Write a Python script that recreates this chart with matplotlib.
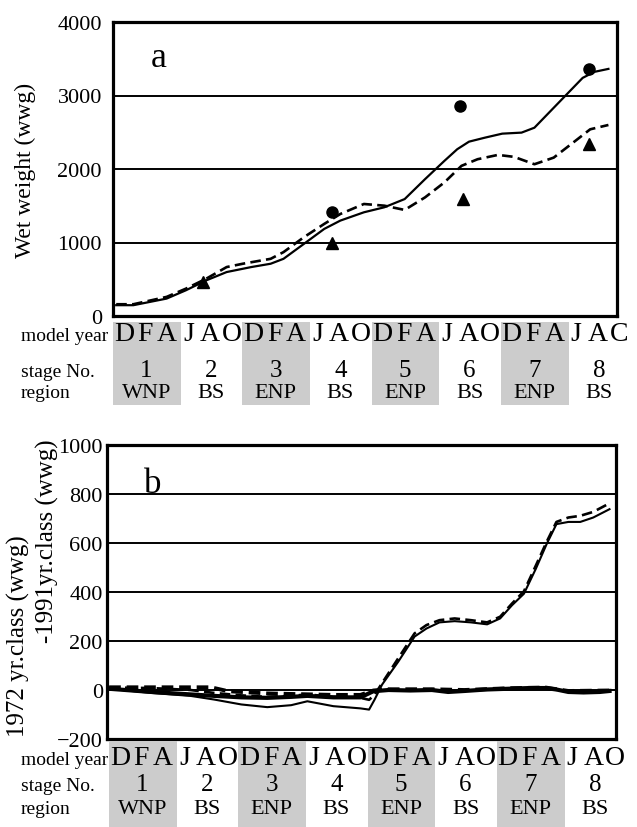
import matplotlib
matplotlib.use('Agg')
import matplotlib.pyplot as plt
from matplotlib.patches import Rectangle

plt.rcParams['font.family'] = ['Liberation Serif', 'DejaVu Serif']

# ---- panel a : wet weight (wwg) against model month ----
a_solid_x = [0.3, 1.9, 5.0, 6.8, 8.7, 10.6, 12.9, 14.7, 15.9, 17.8, 19.7, 21.2, 23.4, 25.3,
             27.2, 29.1, 30.9, 32.1, 33.2, 34.7, 36.3, 38.1, 39.3, 40.8, 42.3, 43.8, 44.9, 46.2]
a_solid_y = [147, 147, 237, 350, 485, 598, 666, 711, 778, 981, 1185, 1298, 1411, 1479,
             1591, 1862, 2110, 2269, 2372, 2427, 2481, 2495, 2562, 2788, 3014, 3240, 3322, 3362]
a_dash_x = [0.3, 1.9, 5.0, 6.8, 8.7, 10.6, 12.1, 14.7, 15.9, 17.8, 19.7, 21.2, 23.4, 25.3,
            27.2, 29.1, 30.9, 32.5, 34.0, 35.9, 37.4, 39.3, 41.1, 43.1, 44.5, 46.2]
a_dash_y = [160, 160, 260, 372, 508, 666, 711, 778, 869, 1072, 1253, 1388, 1524, 1501,
            1443, 1614, 1817, 2043, 2133, 2192, 2165, 2065, 2155, 2381, 2540, 2599]
a_circ_x = [20.4, 32.4, 44.4]
a_circ_y = [1420, 2856, 3362]
a_tri_x = [8.4, 20.4, 32.6, 44.4]
a_tri_y = [463, 990, 1591, 2345]

# ---- panel b : 1972 yr.class - 1991 yr.class (wwg) ----
b1_x = [0.2, 4.1, 7.7, 9.9, 12.4, 14.8, 17.0, 18.5, 20.9, 23.4, 24.2, 24.7, 25.4, 26.9, 28.4,
        29.5, 30.7, 32.1, 33.6, 35.1, 36.3, 37.4, 38.5, 39.6, 40.6, 41.5, 42.6, 43.7, 44.9, 46.4]
b1_y = [5, -12, -24, -39, -59, -70, -62, -46, -66, -75, -80, -40, 22, 116, 218,
        251, 276, 281, 276, 268, 292, 346, 393, 495, 596, 677, 686, 686, 704, 738]
b2_x = [0.2, 4.1, 7.7, 9.9, 12.4, 14.8, 17.0, 18.5, 20.9, 23.4, 24.2, 24.7, 25.4, 26.9, 28.4,
        29.5, 30.7, 32.1, 33.6, 35.1, 36.3, 37.4, 38.5, 39.6, 40.6, 41.5, 42.6, 43.7, 44.9, 46.4]
b2_y = [10, 8, 0, -12, -22, -28, -24, -18, -28, -32, -40, -20, 28, 130, 231,
        265, 285, 292, 285, 276, 299, 353, 403, 508, 605, 686, 704, 711, 727, 762]
b3_x = [0.2, 4.1, 7.7, 9.9, 12.4, 14.8, 17.0, 18.5, 20.9, 23.4, 24.6, 26.0, 28.0, 30.0,
        31.5, 33.0, 35.0, 37.0, 39.0, 40.5, 41.5, 42.6, 44.0, 45.5, 46.4]
b3_y = [5, -8, -18, -24, -30, -32, -28, -24, -30, -30, -5, 0, -2, 0,
        -8, -4, 2, 5, 8, 8, 2, -8, -10, -8, -4]
b4_x = [0.2, 9.6, 11.2, 14.8, 20.9, 23.4, 24.6, 26.0, 30.0, 33.0, 37.0, 40.5, 42.6, 46.4]
b4_y = [11, 11, -5, -14, -20, -20, -2, 3, 3, 0, 7, 10, -4, -2]

months_a = list('DFAJAODFAJAODFAJAODFAJAC')
months_b = list('DFAJAODFAJAODFAJAODFAJAO')
stages = ['1', '2', '3', '4', '5', '6', '7', '8']
regions = ['WNP', 'BS', 'ENP', 'BS', 'ENP', 'BS', 'ENP', 'BS']

W, H = 637, 828
fig = plt.figure(figsize=(W / 100, H / 100), dpi=100)


def px_axes(l, t, r, b):
    return fig.add_axes([l / W, 1 - b / H, (r - l) / W, (b - t) / H])


def style(ax, ticks, pad):
    ax.set_yticks(ticks)
    ax.set_xticks([])
    ax.tick_params(axis='y', length=0, pad=pad, labelsize=16)
    ax.grid(axis='y', color='black', lw=1.4)
    ax.set_axisbelow(True)
    for s in ax.spines.values():
        s.set_linewidth(2.3)


def draw_table(left, top, bottom, gray_top, letters, y_let, y_stage, y_reg):
    t = px_axes(left, top, left + 517, bottom)
    t.set_xlim(0, 48)
    t.set_ylim(bottom, top)
    t.axis('off')
    for k in range(0, 8, 2):
        t.add_patch(Rectangle((k * 6, gray_top), 6.3, bottom - gray_top, color='#cccccc', lw=0))
    for i, ch in enumerate(letters):
        t.text(i * 2 + 1, y_let, ch, ha='center', va='baseline', fontsize=20)
    for k in range(8):
        t.text(k * 6 + 3.1, y_stage, stages[k], ha='center', va='baseline', fontsize=18)
        t.text(k * 6 + 3.1, y_reg, regions[k], ha='center', va='baseline', fontsize=16)
    for lab, y in [('model year', y_let), ('stage No.', y_stage), ('region', y_reg)]:
        fig.text(21 / W, 1 - y / H, lab, ha='left', va='baseline', fontsize=14)


# panel a
ax = px_axes(113, 23, 617, 317)
ax.plot(a_solid_x, a_solid_y, color='black', lw=1.6)
ax.plot(a_dash_x, a_dash_y, color='black', lw=1.9, ls=(0, (4, 2)))
ax.plot(a_circ_x, a_circ_y, 'o', color='black', ms=8)
ax.plot(a_tri_x, a_tri_y, '^', color='black', ms=8)
ax.set_xlim(0, 47)
ax.set_ylim(0, 4000)
style(ax, [0, 1000, 2000, 3000, 4000], 8)
ax.text(0.09, 0.88, 'a', transform=ax.transAxes, fontsize=26, ha='center', va='center')
fig.text(25 / W, 1 - 170 / H, 'Wet weight (wwg)', rotation=90, ha='center', va='center', fontsize=17)
draw_table(113, 318, 406, 323, months_a, 341, 377, 398)

# panel b
bx = px_axes(107, 446, 616, 740)
bx.plot(b3_x, b3_y, color='black', lw=3.0)
bx.plot(b4_x, b4_y, color='black', lw=2.8, ls=(0, (3, 1.5)))
bx.plot(b1_x, b1_y, color='black', lw=1.5)
bx.plot(b2_x, b2_y, color='black', lw=1.9, ls=(0, (4, 2)))
bx.set_xlim(0, 47)
bx.set_ylim(-200, 1000)
style(bx, [-200, 0, 200, 400, 600, 800, 1000], 3)
bx.text(0.09, 0.87, 'b', transform=bx.transAxes, fontsize=25, ha='center', va='center')
fig.text(18 / W, 1 - 636 / H, '1972 yr.class (wwg)', rotation=90, ha='center', va='center', fontsize=18)
fig.text(47 / W, 1 - 541 / H, '-1991yr.class (wwg)', rotation=90, ha='center', va='center', fontsize=18)
draw_table(109, 741, 828, 742, months_b, 765, 791, 814)

fig.savefig('out.png', dpi=100)
